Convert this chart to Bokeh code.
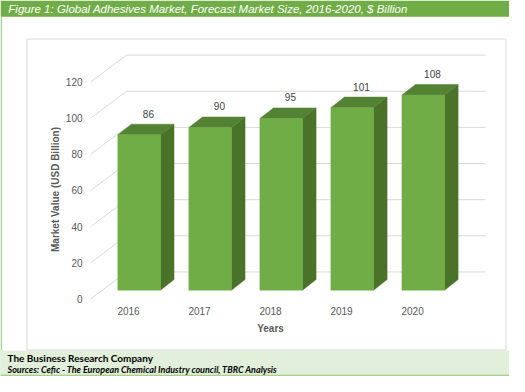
import math
from bokeh.plotting import figure
from bokeh.models import Range1d
from bokeh.core.properties import value
from bokeh.embed import file_html
from bokeh.resources import INLINE

# ---- data ----
years = ["2016", "2017", "2018", "2019", "2020"]
values = [86, 90, 95, 101, 108]
y_ticks = [0, 20, 40, 60, 80, 100, 120]

title_text = "Figure 1: Global Adhesives Market, Forecast Market Size, 2016-2020, $ Billion"
y_title = "Market Value (USD Billion)"
x_title = "Years"
company = "The Business Research Company"
sources = "Sources: Cefic - The European Chemical Industry council, TBRC Analysis"

# ---- styling / layout ----
GREEN = "#70AD47"
SIDE = "#4A7229"
TOP = "#548235"
GRID = "#D9D9D9"
LIGHT = "#A9D18E"
FOOT = "#E2EFDA"
W, H = 509, 376

# scale: one category = 71.02 px, one value unit = 1.8072 px
PX_X, PX_Y = 71.02, 1.8072
X0, Y0 = 128.0, 298.3   # canvas pixel of category 0 / value 0 on the front plane


def cx(px):
    return (px - X0) / PX_X


def cy(py):
    return (Y0 - py) / PX_Y


half_w = 0.30                     # half width of bar front face
bar_dx, bar_dy = 0.150, 4.78      # bar front face offset from front plane
dep_dx, dep_dy = 0.191, 5.84      # bar depth
wall_dx, wall_dy = 0.505, 14.86   # back wall offset
front_x = -0.532
wall_end = 5.024

p = figure(width=W, height=H, output_backend="svg", toolbar_location=None,
           x_range=Range1d(cx(0), cx(W)), y_range=Range1d(cy(H), cy(0)),
           x_axis_location=None, y_axis_location=None, min_border=0)
p.outline_line_color = None
p.xgrid.visible = False
p.ygrid.visible = False
p.background_fill_color = "white"
p.border_fill_color = "white"

# ---- frame decorations ----
p.quad(left=[cx(0)], right=[cx(W)], top=[cy(0)], bottom=[cy(16.3)],
       fill_color=GREEN, line_alpha=0)
p.quad(left=[cx(0)], right=[cx(1.5)], top=[cy(16.3)], bottom=[cy(H)],
       fill_color=LIGHT, line_alpha=0)
p.quad(left=[cx(0)], right=[cx(W)], top=[cy(350)], bottom=[cy(374)],
       fill_color=FOOT, line_alpha=0)
p.quad(left=[cx(0)], right=[cx(W)], top=[cy(374)], bottom=[cy(H)],
       fill_color=LIGHT, line_alpha=0)
p.quad(left=[cx(26.5)], right=[cx(505.5)], top=[cy(38.5)], bottom=[cy(349.5)],
       fill_alpha=0, line_color=GRID, line_width=1)

# ---- gridlines: side wall diagonal + back wall ----
gxs = [[front_x, front_x + wall_dx, wall_end] for t in y_ticks]
gys = [[t, t + wall_dy, t + wall_dy] for t in y_ticks]
p.multi_line(gxs, gys, line_color=GRID, line_width=1)

# ---- bars ----
xs_idx = list(range(len(years)))
lefts = [i + bar_dx - half_w for i in xs_idx]
rights = [i + bar_dx + half_w for i in xs_idx]
tops = [v + bar_dy for v in values]
side_xs, side_ys, top_xs, top_ys = [], [], [], []
for L, R, T in zip(lefts, rights, tops):
    side_xs.append([R, R + dep_dx, R + dep_dx, R])
    side_ys.append([bar_dy, bar_dy + dep_dy, T + dep_dy, T])
    top_xs.append([L, L + dep_dx, R + dep_dx, R])
    top_ys.append([T, T + dep_dy, T + dep_dy, T])
p.patches(side_xs, side_ys, fill_color=SIDE, line_color=SIDE, line_width=0.5)
p.patches(top_xs, top_ys, fill_color=TOP, line_color=TOP, line_width=0.5)
p.quad(left=lefts, right=rights, bottom=bar_dy, top=tops,
       fill_color=GREEN, line_color=GREEN, line_width=0.5)

# ---- value labels ----
p.text(x=[i + 0.28 for i in xs_idx], y=[v + 16.46 for v in values],
       text=[str(v) for v in values], text_align="center", text_baseline="middle",
       text_font=value("Liberation Sans"), text_font_size="10px", text_color="#404040")

# ---- axes (ticks + titles) ----
p.text(x=[cx(82)] * len(y_ticks), y=y_ticks, text=[str(t) for t in y_ticks],
       text_align="right", text_baseline="middle", text_font=value("Liberation Sans"),
       text_font_size="10px", text_color="#595959")
p.text(x=xs_idx, y=[cy(310)] * len(years), text=years, text_align="center",
       text_baseline="middle", text_font=value("Liberation Sans"),
       text_font_size="10px", text_color="#595959")
p.text(x=[cx(55)], y=[cy(189)], text=[y_title], angle=math.pi / 2,
       text_align="center", text_baseline="middle", text_font=value("Liberation Sans"),
       text_font_size="10px", text_font_style="bold", text_color="#595959")
p.text(x=[2], y=[cy(328)], text=[x_title], text_align="center",
       text_baseline="middle", text_font=value("Liberation Sans"),
       text_font_size="10px", text_font_style="bold", text_color="#595959")

# ---- header / footer texts ----
p.text(x=[cx(7.8)], y=[cy(8.4)], text=[title_text], text_baseline="middle",
       text_font=value("Liberation Sans"), text_font_style="italic",
       text_color="white", text_font_size="11.5px")
p.text(x=[cx(7)], y=[cy(357.5)], text=[company], text_baseline="middle",
       text_font=value("Lato"), text_font_style="bold",
       text_color="black", text_font_size="10px")
p.text(x=[cx(7)], y=[cy(368.8)], text=[sources], text_baseline="middle",
       text_font=value("Lato"), text_font_style="bold italic",
       text_color="black", text_font_size="9px")

open("out.html", "w").write(file_html(p, INLINE))
